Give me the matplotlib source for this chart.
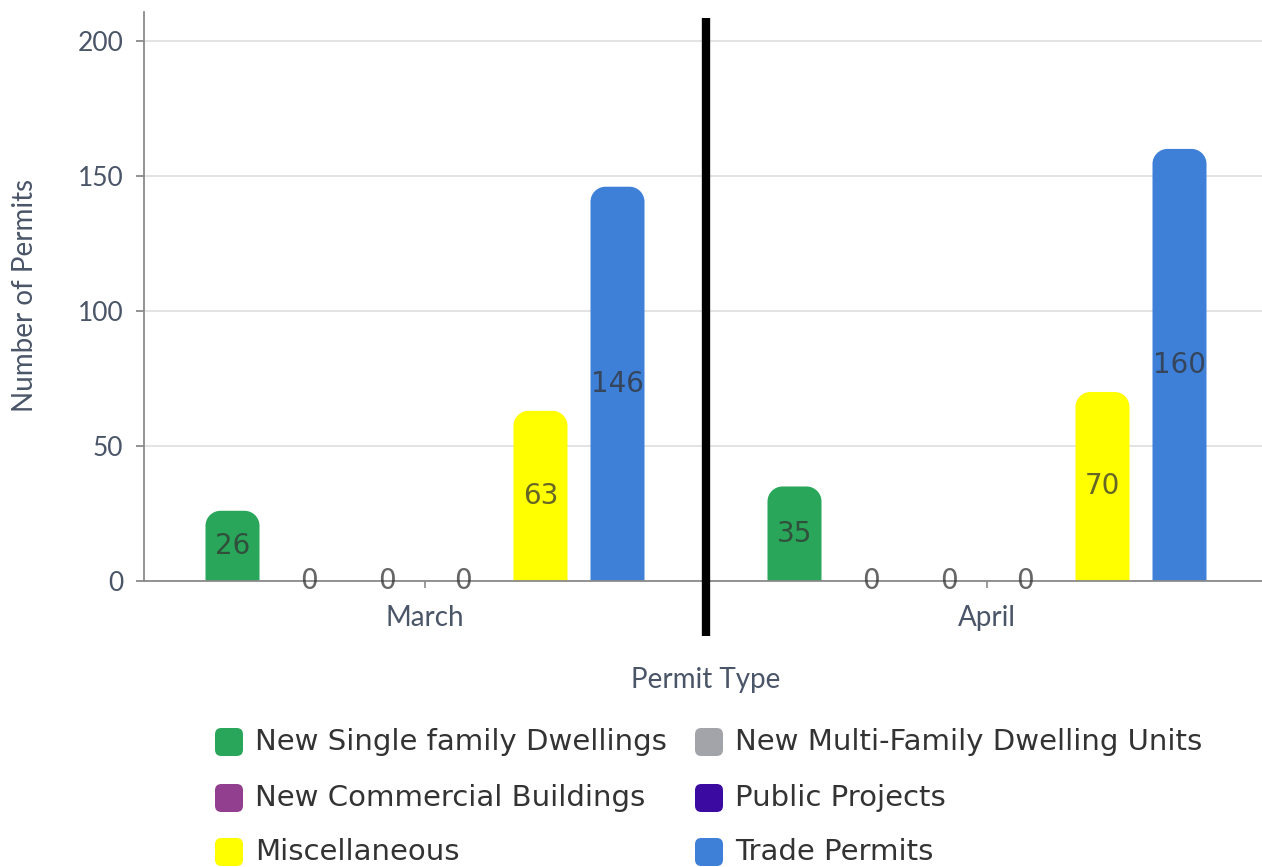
import matplotlib
matplotlib.use("Agg")
import matplotlib.pyplot as plt
import numpy as np
from matplotlib.path import Path
from matplotlib.patches import PathPatch, FancyBboxPatch
from matplotlib.transforms import blended_transform_factory

# ---------------- data ----------------
categories = ["March", "April"]
series_names = ["New Single family Dwellings", "New Multi-Family Dwelling Units",
                "New Commercial Buildings", "Public Projects",
                "Miscellaneous", "Trade Permits"]
series_colors = ["#29a65a", "#a3a4a9", "#913f8e", "#3b0aa0", "#ffff00", "#3e80d8"]
single_family = [26, 35]
multi_family = [0, 0]
commercial = [0, 0]
public_projects = [0, 0]
miscellaneous = [63, 70]
trade_permits = [146, 160]
yticks = [0, 50, 100, 150, 200]

series_values = [single_family, multi_family, commercial, public_projects,
                 miscellaneous, trade_permits]

# ---------------- figure ----------------
W, H = 1262, 867
fig = plt.figure(figsize=(W / 100, H / 100), dpi=100)
ax_left_px, ax_right_px = 144, 1268
ax_bottom_px, ax_top_px = 581, 12
ax = fig.add_axes([ax_left_px / W, (H - ax_bottom_px) / H,
                   (ax_right_px - ax_left_px) / W, (ax_bottom_px - ax_top_px) / H])
ymax = 210.7
ax.set_xlim(-0.5, 1.5)
ax.set_ylim(0, ymax)

axis_color = "#4a5568"
line_gray = "#8a8a8a"

px_per_x = (ax_right_px - ax_left_px) / 2.0
px_per_y = (ax_bottom_px - ax_top_px) / ymax

n = len(series_values)
spacing = 77 / px_per_x
bar_w = 54 / px_per_x
r_px = 15
rx = r_px / px_per_x
ry = r_px / px_per_y
k = 0.5523


def rounded_top_bar(xc, h, color):
    x0, x1 = xc - bar_w / 2, xc + bar_w / 2
    ryy = min(ry, h)
    verts = [
        (x0, 0), (x0, h - ryy),
        (x0, h - ryy + k * ryy), (x0 + rx - k * rx, h), (x0 + rx, h),
        (x1 - rx, h),
        (x1 - rx + k * rx, h), (x1, h - ryy + k * ryy), (x1, h - ryy),
        (x1, 0), (x0, 0),
    ]
    codes = [Path.MOVETO, Path.LINETO,
             Path.CURVE4, Path.CURVE4, Path.CURVE4,
             Path.LINETO,
             Path.CURVE4, Path.CURVE4, Path.CURVE4,
             Path.LINETO, Path.CLOSEPOLY]
    ax.add_patch(PathPatch(Path(verts, codes), facecolor=color, edgecolor="none", zorder=3))


label_font = "DejaVu Sans"
for i, (vals, col) in enumerate(zip(series_values, series_colors)):
    for c, v in enumerate(vals):
        xc = c + (i - (n - 1) / 2) * spacing
        if v > 0:
            rounded_top_bar(xc, v, col)
        ax.text(xc, v / 2, f"{v}", ha="center", va="center", fontsize=20,
                family=label_font, color="#333333", alpha=0.75, zorder=5)

# grid & axes
ax.set_yticks(yticks)
ax.set_yticklabels([str(t) for t in yticks])
ax.yaxis.grid(True, color="#e1e1e1", linewidth=1.3, zorder=0)
ax.set_axisbelow(True)
for s in ["top", "right"]:
    ax.spines[s].set_visible(False)
ax.spines["left"].set_color(line_gray)
ax.spines["left"].set_linewidth(1.3)
ax.spines["bottom"].set_color(line_gray)
ax.spines["bottom"].set_linewidth(1.3)
ax.spines["bottom"].set_zorder(4)
ax.tick_params(axis="y", length=6, width=1.3, color=line_gray, pad=9,
               labelsize=19, labelcolor=axis_color)
ax.tick_params(axis="x", length=5, width=1.2, color=line_gray, pad=12,
               labelsize=20, labelcolor=axis_color)
ax.set_xticks(range(len(categories)))
ax.set_xticklabels(categories)
for lab in ax.get_xticklabels() + ax.get_yticklabels():
    lab.set_family("Lato")

# divider line between months
trans = blended_transform_factory(ax.transData, fig.transFigure)
ax.plot([0.5, 0.5], [(H - 18) / H, (H - 636) / H], transform=trans, color="black",
        linewidth=6, solid_capstyle="butt", clip_on=False, zorder=6)

# axis titles
fig.text(25 / W, 1 - 295 / H, "Number of Permits", rotation=90, ha="center", va="center",
         fontsize=20, family="Lato", color=axis_color)
fig.text(706 / W, 1 - 680 / H, "Permit Type", ha="center", va="center",
         fontsize=20, family="Lato", color=axis_color)

# legend (manual)
legend_font = "DejaVu Sans"
col_x = [215, 695]
row_y = [742, 798, 852]
for i, (name, col) in enumerate(zip(series_names, series_colors)):
    cx = col_x[i % 2]
    cy = row_y[i // 2]
    box = FancyBboxPatch(((cx) / W, 1 - (cy + 14) / H), 28 / W, 28 / H,
                         boxstyle="round,pad=0,rounding_size=0.005",
                         mutation_aspect=W / H,
                         transform=fig.transFigure, facecolor=col, edgecolor="none")
    fig.patches.append(box)
    fig.text((cx + 40) / W, 1 - cy / H, name, ha="left", va="center",
             fontsize=21, family=legend_font, color="#333333")

fig.savefig("out.png", dpi=100)
